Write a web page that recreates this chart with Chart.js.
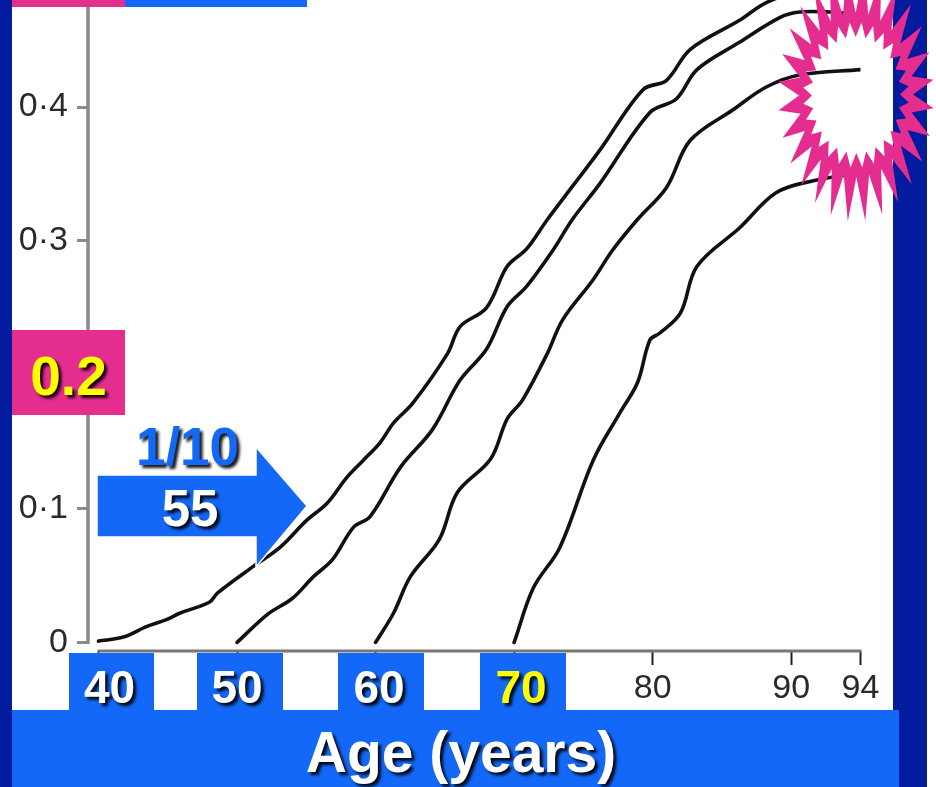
<!DOCTYPE html>
<html><head><meta charset="utf-8">
<script src="https://cdn.jsdelivr.net/npm/chart.js@4/dist/chart.umd.min.js"></script>
<style>
html,body{margin:0;padding:0;}
body{width:936px;height:787px;position:relative;overflow:hidden;background:#fff;font-family:"Liberation Sans",Arial,Helvetica,sans-serif;}
.abs{position:absolute;}
#bg{left:0;top:0;width:927px;height:787px;background:#021b9f;}
#plot{left:12px;top:0;width:881px;height:710px;background:#fff;}
#cv{left:12px;top:0;}
.blue{background:#1368f7;}
.pink{background:#e52d8f;}
.txt{font-weight:bold;text-align:center;white-space:nowrap;text-shadow:3px 3px 3px rgba(0,0,0,0.9);}
</style></head><body>
<div id="bg" class="abs"></div>
<div id="plot" class="abs"></div>
<canvas id="cv" class="abs" width="881" height="710"></canvas>

<div class="abs pink" style="left:12px;top:0;width:113px;height:7px;"></div>
<div class="abs blue" style="left:125px;top:0;width:182px;height:7px;"></div>

<div class="abs pink" style="left:12px;top:330px;width:113px;height:85px;"></div>
<div class="abs txt" style="left:12px;top:336px;width:113px;height:80px;line-height:80px;font-size:55px;color:#ffff00;">0.2</div>

<svg class="abs" style="left:0;top:0;" width="936" height="787">
  <polygon points="97,475 256,475 256,447 307,506 256,567 256,537 97,537" fill="#1368f7" stroke="#fff" stroke-width="1.5"/>
</svg>
<div class="abs txt" style="left:100px;top:407px;width:175px;height:80px;line-height:80px;font-size:53px;color:#1368f7;">1/10</div>
<div class="abs txt" style="left:100px;top:469px;width:180px;height:80px;line-height:80px;font-size:51px;color:#fff;">55</div>

<div class="abs blue" style="left:69px;top:653px;width:85px;height:57px;"></div>
<div class="abs blue" style="left:197px;top:653px;width:86px;height:57px;"></div>
<div class="abs blue" style="left:338px;top:653px;width:86px;height:57px;"></div>
<div class="abs blue" style="left:480px;top:653px;width:86px;height:57px;"></div>
<div class="abs txt" style="left:59.5px;top:646.5px;width:100px;height:80px;line-height:80px;font-size:46px;color:#fff;">40</div>
<div class="abs txt" style="left:187px;top:646.5px;width:100px;height:80px;line-height:80px;font-size:46px;color:#fff;">50</div>
<div class="abs txt" style="left:329px;top:646.5px;width:100px;height:80px;line-height:80px;font-size:46px;color:#fff;">60</div>
<div class="abs txt" style="left:471px;top:646.5px;width:100px;height:80px;line-height:80px;font-size:46px;color:#ffff00;">70</div>

<div class="abs blue" style="left:12px;top:710px;width:887px;height:77px;"></div>
<div class="abs txt" style="left:161px;top:712px;width:600px;height:80px;line-height:80px;font-size:57px;color:#fff;">Age (years)</div>

<svg id="star" class="abs" style="left:0;top:0;" width="936" height="787"></svg>

<script>
// ---- data ----
const ages40 = [40, 41.8, 43.5, 44.9, 45.9, 48.0, 48.6, 51.2, 53.1, 55.0, 56.5, 57.9, 59.1, 60.3, 61.3, 62.7, 65.2, 66.1, 68.0, 69.5, 70.9, 72.4, 74.3, 76.2, 79.3, 81.0, 82.7, 86.3, 88.2, 91.0, 95];
const risk40 = [0.001, 0.004, 0.012, 0.017, 0.022, 0.030, 0.037, 0.057, 0.071, 0.091, 0.104, 0.123, 0.136, 0.149, 0.164, 0.179, 0.216, 0.236, 0.250, 0.281, 0.294, 0.316, 0.342, 0.368, 0.413, 0.420, 0.443, 0.465, 0.478, 0.488, 0.492];

const ages50 = [50, 52.2, 54.0, 55.5, 56.9, 58.4, 59.6, 61.8, 64.1, 66.1, 68.0, 69.5, 70.9, 72.8, 74.2, 76.2, 79.8, 81.7, 83.2, 86.2, 89.2, 90.6, 92.8, 95];
const risk50 = [0.000, 0.021, 0.033, 0.049, 0.062, 0.086, 0.094, 0.131, 0.159, 0.196, 0.219, 0.251, 0.266, 0.293, 0.316, 0.343, 0.396, 0.406, 0.428, 0.448, 0.467, 0.471, 0.471, 0.469];

const ages60 = [60, 61.3, 62.5, 64.6, 65.9, 68.3, 69.5, 70.6, 72.4, 73.5, 75.7, 77.1, 78.9, 81.0, 82.7, 85.8, 88.2, 90.6, 95];
const risk60 = [0.000, 0.022, 0.049, 0.077, 0.112, 0.137, 0.167, 0.181, 0.216, 0.241, 0.271, 0.293, 0.316, 0.340, 0.375, 0.398, 0.415, 0.424, 0.428];

const ages70 = [70, 71.4, 73.3, 75.7, 77.6, 78.9, 79.8, 80.5, 82.0, 83.2, 86.3, 88.9, 91.6, 95];
const risk70 = [0.000, 0.041, 0.071, 0.136, 0.171, 0.194, 0.226, 0.231, 0.246, 0.281, 0.310, 0.336, 0.345, 0.351];

const yTickValues = [0, 0.1, 0.2, 0.3, 0.4];
const yTickLabels = ['0', '0·1', '0·2', '0·3', '0·4'];
const xTickValues = [40, 50, 60, 70, 80, 90, 95];
const xTickLabels = ['40', '50', '60', '70', '80', '90', '94'];

// ---- chart ----
const FONT = '"Liberation Sans", Arial, Helvetica, sans-serif';
function pts(a, r) { return a.map((x, i) => ({ x: x, y: r[i] })); }
function curve(a, r) {
  return { data: pts(a, r), borderColor: '#111', borderWidth: 3.6, pointRadius: 0, tension: 0.35, fill: false, borderCapStyle: 'round', borderJoinStyle: 'round' };
}
function noPad(s) { s.paddingTop = 0; s.paddingBottom = 0; s.paddingLeft = 0; s.paddingRight = 0; }

const axisLines = {
  id: 'axisLines',
  beforeDatasetsDraw(chart) {
    const { ctx, chartArea, scales } = chart;
    const x = scales.x, y = scales.y;
    ctx.save();
    ctx.lineCap = 'butt';
    ctx.strokeStyle = '#8a8a8a';
    ctx.lineWidth = 3.5;
    ctx.beginPath();
    ctx.moveTo(chartArea.left, y.getPixelForValue(0) + 1.5);
    ctx.lineTo(chartArea.left, chartArea.top);
    ctx.stroke();
    ctx.strokeStyle = '#777';
    ctx.lineWidth = 3;
    ctx.beginPath();
    ctx.moveTo(x.getPixelForValue(xTickValues[0]) - 1, chartArea.bottom);
    ctx.lineTo(x.getPixelForValue(xTickValues[xTickValues.length - 1]) + 1, chartArea.bottom);
    ctx.stroke();
    ctx.restore();
  }
};

const pxPerYear = 762 / 55;
new Chart(document.getElementById('cv').getContext('2d'), {
  type: 'line',
  data: { datasets: [curve(ages40, risk40), curve(ages50, risk50), curve(ages60, risk60), curve(ages70, risk70)] },
  options: {
    responsive: false, animation: false, events: [],
    layout: { autoPadding: false, padding: { left: 0, right: 32.5, top: 0, bottom: 0 } },
    plugins: { legend: { display: false }, tooltip: { enabled: false } },
    scales: {
      x: {
        type: 'linear', min: 40 - 10.5 / pxPerYear, max: 95,
        afterBuildTicks: s => { s.ticks = xTickValues.map(v => ({ value: v })); },
        afterFit: s => { s.height = 59; noPad(s); },
        border: { display: false },
        grid: { drawOnChartArea: false, drawTicks: true, tickLength: 14, tickColor: '#222', tickWidth: 2 },
        ticks: { autoSkip: false, maxRotation: 0, padding: 3, color: '#2a2a2a', font: { size: 34, family: FONT },
          callback: (v, i) => xTickLabels[i] }
      },
      y: {
        type: 'linear', min: -0.0064, max: 0.48,
        afterBuildTicks: s => { s.ticks = yTickValues.map(v => ({ value: v })); },
        afterFit: s => { s.width = 76; noPad(s); },
        border: { display: false },
        grid: { drawOnChartArea: false, drawTicks: true, tickLength: 11, tickColor: '#8a8a8a', tickWidth: 3 },
        ticks: { padding: 9, color: '#2a2a2a', font: { size: 34, family: FONT },
          callback: (v, i) => yTickLabels[i] }
      }
    }
  },
  plugins: [axisLines]
});

// ---- decorative starburst ----
(function () {
  const N = 28, cx = 856, cy = 95, phase = 186 * Math.PI / 180;
  const step = Math.PI / N;
  function ring(rTip, rVal) {
    let d = '';
    for (let k = 0; k < 2 * N; k++) {
      const t = phase + k * step;
      const r = (k % 2 === 0) ? rTip : rVal;
      const px = cx + r[0] * Math.cos(t), py = cy + r[1] * Math.sin(t);
      d += (k === 0 ? 'M' : 'L') + px.toFixed(1) + ',' + py.toFixed(1);
    }
    return d + 'Z';
  }
  const outer = ring([78, 127], [57, 82]);
  const inner = ring([53, 73], [44, 58]);
  const p = document.createElementNS('http://www.w3.org/2000/svg', 'path');
  p.setAttribute('d', outer + inner);
  p.setAttribute('fill', '#e52d8f');
  p.setAttribute('fill-rule', 'evenodd');
  document.getElementById('star').appendChild(p);
})();
</script>
</body></html>
